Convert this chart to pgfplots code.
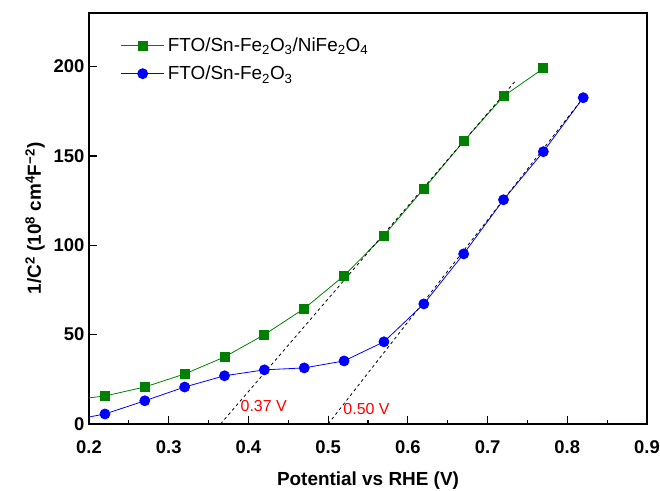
\documentclass[border=0pt]{standalone}
\usepackage{fontspec}
\setmainfont{Liberation Sans}
\usepackage{pgfplots}
\pgfplotsset{compat=1.18}
\definecolor{pgreen}{RGB}{0,128,0}
\definecolor{pblue}{RGB}{0,0,255}
\definecolor{pred}{RGB}{255,0,0}
\begin{document}
\begin{tikzpicture}
\begin{axis}[
  scale only axis, width=558bp, height=411bp,
  xmin=0.2, xmax=0.9, ymin=0, ymax=230,
  xtick={0.2,0.3,0.4,0.5,0.6,0.7,0.8,0.9},
  ytick={0,50,100,150,200},
  minor x tick num=1,
  tick align=inside, xtick pos=bottom, ytick pos=left,
  major tick length=8bp, minor tick length=4bp,
  every tick/.style={line width=1.2bp, black},
  axis line style={line width=1.5bp},
  xticklabel style={/pgf/number format/fixed, /pgf/number format/precision=1, /pgf/number format/fixed zerofill, yshift=-13bp},
  yticklabel style={xshift=-1bp},
  /pgf/number format/assume math mode=true,
  ticklabel style={font=\bfseries\fontsize{18.5}{18.5}\selectfont},
  label style={font=\bfseries\fontsize{19}{19}\selectfont},
  xlabel={Potential vs RHE (V)},
  xlabel style={yshift=-11bp},
  ylabel={1/C\textsuperscript{2} (10\textsuperscript{8} cm\textsuperscript{4}F\textsuperscript{−2})},
  ylabel style={yshift=2bp},
  legend style={at={(axis description cs:0.057,0.94)}, anchor=north west, draw=none, fill=none,
    font=\fontsize{19}{19}\selectfont, row sep=13bp, inner sep=0pt, nodes={inner xsep=3.5bp, inner ysep=0pt}},
  legend cell align=left,
  legend image code/.code={\draw[mark repeat=2,mark phase=2,#1] plot coordinates {(0cm,0cm) (0.75cm,0cm) (1.5cm,0cm)};},
]
\addplot[pgreen, line width=0.8bp, mark=square*, mark size=4.5bp, mark options={solid}] coordinates {
 (0.17,13.0) (0.22,15.7) (0.27,20.7) (0.32,28.0) (0.37,37.5) (0.42,50.0) (0.47,64.6)
 (0.52,83.0) (0.57,105.5) (0.62,131.6) (0.67,158.2) (0.72,183.4) (0.77,199.0)};
\addlegendentry{FTO/Sn-Fe\textsubscript{2}O\textsubscript{3}/NiFe\textsubscript{2}O\textsubscript{4}}
\addplot[pblue, line width=0.8bp, mark=*, mark size=5bp, mark options={solid}] coordinates {
 (0.17,1.4) (0.22,5.6) (0.27,13.0) (0.32,20.7) (0.37,27.0) (0.42,30.3) (0.47,31.4)
 (0.52,35.3) (0.57,46.0) (0.62,67.2) (0.67,95.2) (0.72,125.5) (0.77,152.4) (0.82,182.6)};
\addlegendentry{FTO/Sn-Fe\textsubscript{2}O\textsubscript{3}}
\addplot[black, line width=0.8bp, dashed, forget plot] coordinates {(0.365,0) (0.735,192)};
\addplot[black, line width=0.8bp, dashed, forget plot] coordinates {(0.50,0) (0.82,182.6)};
\node[pred, anchor=west, inner sep=0pt, font=\fontsize{16}{16}\selectfont] at (axis cs:0.39,10.1) {0.37 V};
\node[pred, anchor=west, inner sep=0pt, font=\fontsize{16}{16}\selectfont] at (axis cs:0.519,8.4) {0.50 V};
\end{axis}
\pgfresetboundingbox
\useasboundingbox ([shift={(-89bp,-67bp)}]current axis.south west) rectangle ([shift={(13bp,13bp)}]current axis.north east);
\end{tikzpicture}
\end{document}
